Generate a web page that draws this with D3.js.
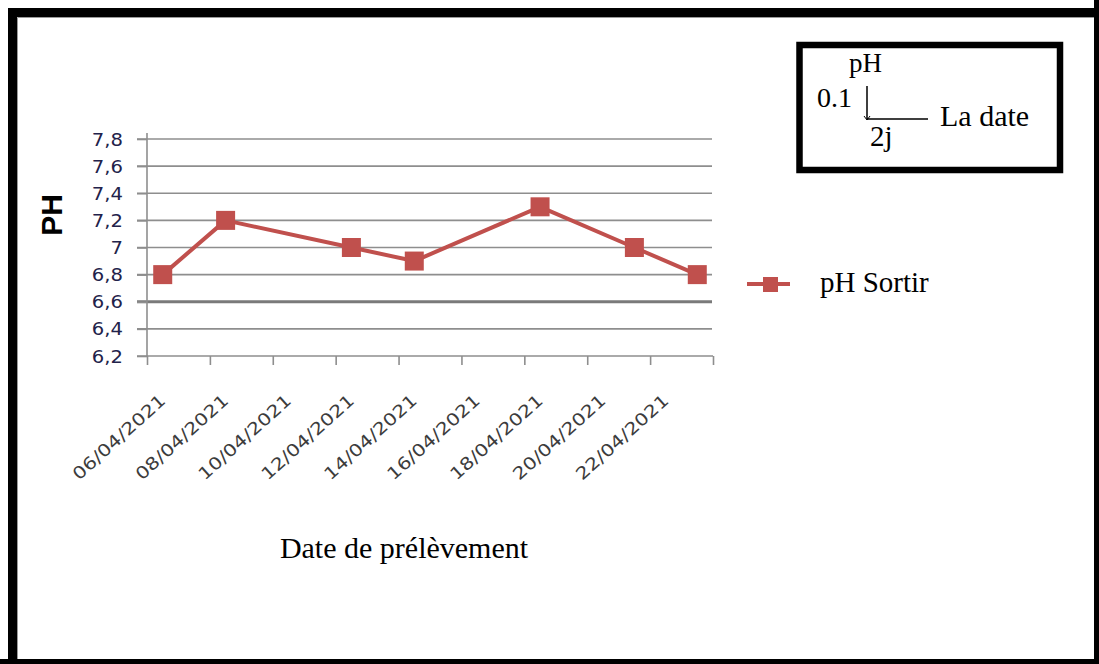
<!DOCTYPE html>
<html>
<head>
<meta charset="utf-8">
<script src="https://cdn.jsdelivr.net/npm/d3@7"></script>
<style>
  html, body { margin: 0; padding: 0; background: #fff; }
  svg { display: block; }
</style>
</head>
<body>
<script>
// Sampling dates (days of April 2021) and measured pH at the outlet
const sampleDays = [6, 8, 12, 14, 18, 21, 23];
const phSortir = [6.8, 7.2, 7.0, 6.9, 7.3, 7.0, 6.8];

// Axis ticks
const yTickValues = [6.2, 6.4, 6.6, 6.8, 7.0, 7.2, 7.4, 7.6, 7.8];
const xLabelDays = [6, 8, 10, 12, 14, 16, 18, 20, 22];
const xTickDays = [6, 8, 10, 12, 14, 16, 18, 20, 22, 24];

// Text
const yTitle = "PH";
const xTitle = "Date de prélèvement";
const seriesName = "pH Sortir";
const scaleNote = { y: "pH", yStep: "0.1", x: "La date", xStep: "2j" };

const W = 1099, H = 664;
const RED = "#c0504d";

const svg = d3.select("body").append("svg")
  .attr("width", W).attr("height", H);

// Outer frame
svg.append("rect").attr("x", 0).attr("y", 0).attr("width", W).attr("height", H).attr("fill", "#fff");
svg.append("path")
  .attr("d", `M12.5,${H} L12.5,12.5 L${W},12.5`)
  .attr("fill", "none").attr("stroke", "#000").attr("stroke-width", 9);
svg.append("path")
  .attr("d", `M0,${H - 2.5} L${W - 2.5},${H - 2.5} L${W - 2.5},0`)
  .attr("fill", "none").attr("stroke", "#000").attr("stroke-width", 5);
svg.append("path")
  .attr("d", `M17.5,${H - 5} L17.5,17.5 L${W - 5},17.5`)
  .attr("fill", "none").attr("stroke", "#9a9a9a").attr("stroke-width", 1);

const date = d => new Date(2021, 3, d);
const x = d3.scaleTime().domain([date(6), date(24)]).range([147, 713]);
const y = d3.scaleLinear().domain([6.2, 7.8]).range([356, 139]);
const center = d => date(d).getTime() + 12 * 3600 * 1000;

const loc = d3.formatLocale({ decimal: ",", thousands: " ", grouping: [3], currency: ["", " €"] });
const fmtY = loc.format("~g");
const fmtDate = d3.timeFormat("%d/%m/%Y");

// Horizontal gridlines
const grid = svg.append("g");
grid.selectAll("line").data(yTickValues.filter(v => v !== 6.2)).join("line")
  .attr("x1", 137).attr("x2", 712)
  .attr("y1", d => y(d)).attr("y2", d => y(d))
  .attr("stroke", d => Math.abs(d - 6.6) < 1e-9 ? "#7a7a7a" : "#8e8e8e")
  .attr("stroke-width", d => Math.abs(d - 6.6) < 1e-9 ? 3 : 1.6);

// Y axis
const yAxis = svg.append("g").attr("transform", "translate(147,0)")
  .call(d3.axisLeft(y).tickValues(yTickValues).tickSize(10).tickFormat(""));
yAxis.select(".domain").attr("stroke", "#8e8e8e").attr("stroke-width", 1.6)
  .attr("d", `M0,133V357`);
yAxis.selectAll(".tick line").attr("stroke", "#8e8e8e").attr("stroke-width", 1.6);

// Y tick labels
svg.append("g").selectAll("text").data(yTickValues).join("text")
  .attr("transform", d => `translate(123,${y(d) + 6.5}) scale(1.12,1)`)
  .attr("text-anchor", "end")
  .attr("font-family", "DejaVu Sans")
  .attr("font-size", 17.5)
  .attr("fill", "#22224a")
  .text(d => fmtY(d));

// X axis (bottom)
const xAxis = svg.append("g").attr("transform", "translate(0,356)")
  .call(d3.axisBottom(x).tickValues(xTickDays.map(date)).tickSize(9).tickFormat(""));
xAxis.select(".domain").attr("stroke", "#8e8e8e").attr("stroke-width", 1.6)
  .attr("d", "M137,0H713");
xAxis.selectAll(".tick line").attr("stroke", "#8e8e8e").attr("stroke-width", 1.6);

// Date labels
svg.append("g").selectAll("text").data(xLabelDays).join("text")
  .attr("transform", d => `translate(${x(center(d)) + 4},402) rotate(-42)`)
  .attr("text-anchor", "end")
  .attr("font-family", "DejaVu Sans")
  .attr("font-size", 17)
  .attr("fill", "#3c3c3c")
  .attr("textLength", 118)
  .attr("lengthAdjust", "spacingAndGlyphs")
  .text(d => fmtDate(date(d)));

// Series line and markers
const pts = sampleDays.map((d, i) => [x(center(d)), y(phSortir[i])]);
svg.append("path")
  .attr("d", d3.line()(pts))
  .attr("fill", "none").attr("stroke", RED).attr("stroke-width", 4)
  .attr("stroke-linejoin", "round");
svg.append("g").selectAll("rect").data(pts).join("rect")
  .attr("x", p => p[0] - 9.5).attr("y", p => p[1] - 9.5)
  .attr("width", 19).attr("height", 19)
  .attr("fill", RED);

// Axis titles
svg.append("text")
  .attr("transform", "translate(62,215) rotate(-90)")
  .attr("text-anchor", "middle")
  .attr("font-family", "Liberation Sans").attr("font-weight", "bold")
  .attr("font-size", 30).attr("fill", "#000")
  .text(yTitle);
svg.append("text")
  .attr("x", 404).attr("y", 558)
  .attr("text-anchor", "middle")
  .attr("font-family", "Liberation Serif")
  .attr("font-size", 30).attr("fill", "#000")
  .text(xTitle);

// Legend
const lg = svg.append("g");
lg.append("line").attr("x1", 747).attr("x2", 790).attr("y1", 284).attr("y2", 284)
  .attr("stroke", RED).attr("stroke-width", 4);
lg.append("rect").attr("x", 763).attr("y", 277).attr("width", 15).attr("height", 15).attr("fill", RED);
lg.append("text").attr("x", 820).attr("y", 291.5)
  .attr("font-family", "Liberation Serif").attr("font-size", 29).attr("fill", "#000")
  .text(seriesName);

// Scale note box
const nb = svg.append("g");
nb.append("rect").attr("x", 799.5).attr("y", 45).attr("width", 260.5).attr("height", 125)
  .attr("fill", "#fff").attr("stroke", "#000").attr("stroke-width", 6.5);
nb.append("path").attr("d", "M867,86V119H928")
  .attr("fill", "none").attr("stroke", "#000").attr("stroke-width", 1.5);
nb.append("path").attr("d", "M864,116L867,120L870,116")
  .attr("fill", "none").attr("stroke", "#000").attr("stroke-width", 1);
const noteFont = s => sel => sel.attr("font-family", "Liberation Serif").attr("font-size", s).attr("fill", "#000");
nb.append("text").attr("x", 849).attr("y", 72).call(noteFont(27)).text(scaleNote.y);
nb.append("text").attr("x", 817).attr("y", 107).call(noteFont(28)).text(scaleNote.yStep);
nb.append("text").attr("x", 940).attr("y", 126).call(noteFont(30)).text(scaleNote.x);
nb.append("text").attr("x", 870).attr("y", 146).call(noteFont(29)).text(scaleNote.xStep);
</script>
</body>
</html>
